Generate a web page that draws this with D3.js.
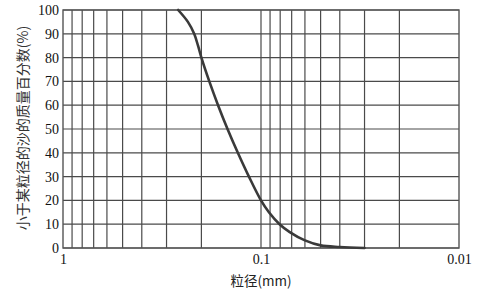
<!DOCTYPE html>
<html>
<head>
<meta charset="utf-8">
<script src="https://cdn.jsdelivr.net/npm/d3@7"></script>
<style>
  body { margin: 0; background: #fff; }
</style>
</head>
<body>
<div class="container"></div>
<script>
var svgWidth = 487;
var svgHeight = 294;
var margin = { top: 10, right: 28, bottom: 46, left: 63 };
var width = svgWidth - margin.left - margin.right;
var height = svgHeight - margin.top - margin.bottom;

// particle size (mm) and percent finer
var sizes = [0.262, 0.234, 0.2175, 0.208, 0.2, 0.1824, 0.1648, 0.1476, 0.1309, 0.1151, 0.1, 0.0912, 0.0806, 0.0716, 0.06, 0.05, 0.04, 0.03];
var percents = [100, 95, 90, 85, 80, 70, 60, 50, 40, 30, 20, 15, 10, 6.7, 3.2, 1.1, 0.4, 0];

var xGridValues = [0.9, 0.8, 0.7, 0.6, 0.5, 0.4, 0.3, 0.2, 0.1,
  0.09, 0.08, 0.07, 0.06, 0.05, 0.04, 0.03, 0.02];
var xTickValues = [1, 0.1, 0.01];
var xTickLabels = ["1", "0.1", "0.01"];
var yTickValues = [0, 10, 20, 30, 40, 50, 60, 70, 80, 90, 100];

var svg = d3.select(".container")
  .append("svg")
  .attr("width", svgWidth)
  .attr("height", svgHeight);

var chartGroup = svg.append("g")
  .attr("transform", `translate(${margin.left}, ${margin.top})`);

// reversed log scale: 1 on the left, 0.01 on the right
var xLogScale = d3.scaleLog()
  .domain([1, 0.01])
  .range([0, width]);

var yLinearScale = d3.scaleLinear()
  .domain([0, 100])
  .range([height, 0]);

// vertical grid
chartGroup.append("g")
  .selectAll("line")
  .data(xGridValues)
  .enter()
  .append("line")
  .attr("x1", d => xLogScale(d))
  .attr("x2", d => xLogScale(d))
  .attr("y1", 0)
  .attr("y2", height)
  .attr("stroke", "#4a4a4a")
  .attr("stroke-width", 1.2);

// horizontal grid
chartGroup.append("g")
  .selectAll("line")
  .data(yTickValues)
  .enter()
  .append("line")
  .attr("x1", 0)
  .attr("x2", width)
  .attr("y1", d => yLinearScale(d))
  .attr("y2", d => yLinearScale(d))
  .attr("stroke", "#4a4a4a")
  .attr("stroke-width", 1.2);

// frame
chartGroup.append("rect")
  .attr("x", 0)
  .attr("y", 0)
  .attr("width", width)
  .attr("height", height)
  .attr("fill", "none")
  .attr("stroke", "#555")
  .attr("stroke-width", 1.4);

// axes (labels only)
var bottomAxis = d3.axisBottom(xLogScale)
  .tickValues(xTickValues)
  .tickFormat((d, i) => xTickLabels[i])
  .tickSize(0)
  .tickPadding(6);
var leftAxis = d3.axisLeft(yLinearScale)
  .tickValues(yTickValues)
  .tickSize(0)
  .tickPadding(4);

var xAxis = chartGroup.append("g")
  .attr("transform", `translate(0, ${height})`)
  .call(bottomAxis);
xAxis.select(".domain").remove();

var yAxis = chartGroup.append("g")
  .call(leftAxis);
yAxis.select(".domain").remove();

[xAxis, yAxis].forEach(function(ax) {
  ax.attr("font-family", null).attr("font-size", null);
  ax.selectAll("text")
    .attr("font-family", "Times New Roman, Liberation Serif, serif")
    .style("font-family", "'Times New Roman', 'Liberation Serif', serif")
    .style("font-size", "14px")
    .attr("fill", "#111");
});

// curve
var data = sizes.map((s, i) => ({ size: s, pct: percents[i] }));
var line = d3.line()
  .x(d => xLogScale(d.size))
  .y(d => yLinearScale(d.pct))
  .curve(d3.curveCatmullRom.alpha(0.5));

chartGroup.append("path")
  .datum(data)
  .attr("d", line)
  .attr("fill", "none")
  .attr("stroke", "#3a3a3a")
  .attr("stroke-width", 2.6)
  .attr("stroke-linecap", "round");

// axis titles
svg.append("text")
  .attr("x", margin.left + xLogScale(0.1))
  .attr("y", 286)
  .attr("text-anchor", "middle")
  .style("font-family", "'Noto Sans CJK SC', 'Liberation Serif', serif")
  .style("font-size", "13.5px")
  .attr("fill", "#222")
  .text("粒径(mm)");

svg.append("text")
  .attr("transform", "translate(28, 128) rotate(-90)")
  .attr("text-anchor", "middle")
  .style("font-family", "'Noto Sans CJK SC', sans-serif")
  .style("font-size", "14px")
  .attr("fill", "#333")
  .text("小于某粒径的沙的质量百分数(%)");
</script>
</body>
</html>
